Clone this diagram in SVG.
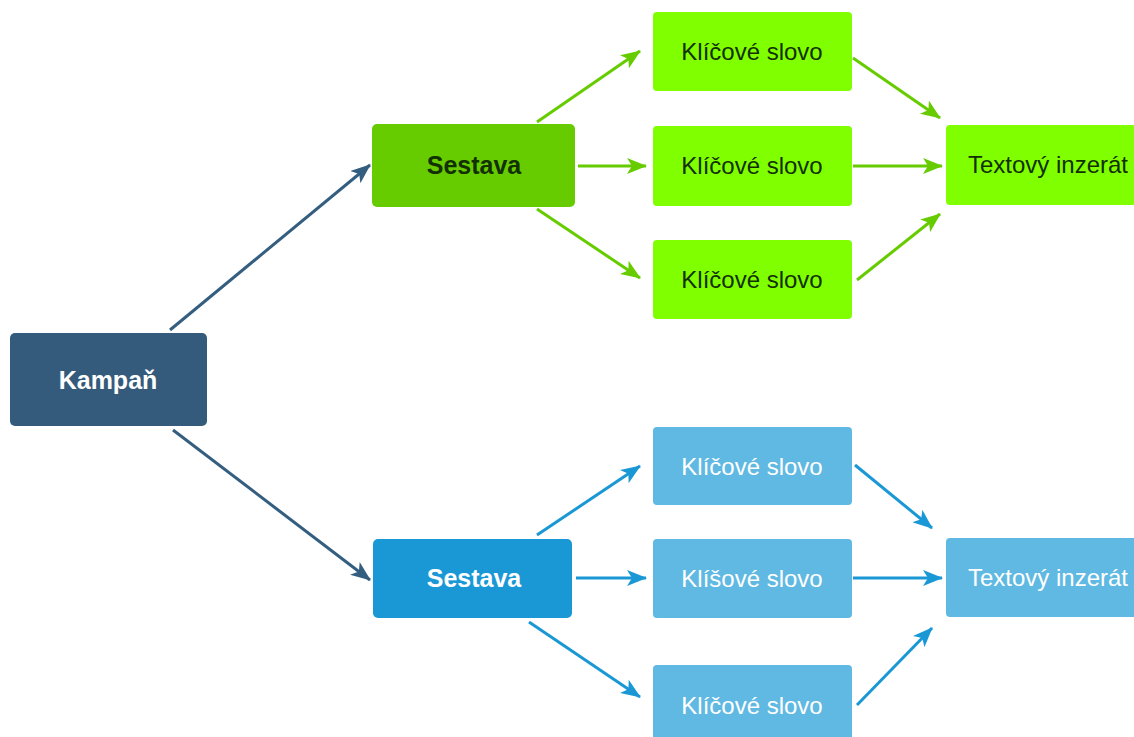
<svg xmlns="http://www.w3.org/2000/svg" width="1134" height="737" viewBox="0 0 1134 737">
<style>
.t{font-family:"Liberation Sans",Arial,sans-serif;font-size:24px;text-anchor:middle}
.b{font-weight:bold;font-size:25px}
.dk{fill:#123000}
.wh{fill:#ffffff}
.cg{stroke:#66cc00;stroke-width:3;fill:none}
.cb{stroke:#1a98d5;stroke-width:3;fill:none}
.cn{stroke:#345e80;stroke-width:3;fill:none}
</style>
<defs>
<marker id="ag" viewBox="0 0 20 16" refX="19" refY="8" markerWidth="20" markerHeight="16" markerUnits="userSpaceOnUse" orient="auto"><path d="M0,0 L20,8 L0,16 L5,8 Z" fill="#66cc00"/></marker>
<marker id="ab" viewBox="0 0 20 16" refX="19" refY="8" markerWidth="20" markerHeight="16" markerUnits="userSpaceOnUse" orient="auto"><path d="M0,0 L20,8 L0,16 L5,8 Z" fill="#1a98d5"/></marker>
<marker id="an" viewBox="0 0 20 16" refX="19" refY="8" markerWidth="20" markerHeight="16" markerUnits="userSpaceOnUse" orient="auto"><path d="M0,0 L20,8 L0,16 L5,8 Z" fill="#345e80"/></marker>
</defs>
<rect width="1134" height="737" fill="#ffffff"/>
<g id="connectors">
<line class="cn" x1="170" y1="330" x2="370" y2="165" marker-end="url(#an)"/>
<line class="cn" x1="173" y1="430" x2="370" y2="580" marker-end="url(#an)"/>
<line class="cg" x1="537" y1="122" x2="640" y2="51" marker-end="url(#ag)"/>
<line class="cg" x1="578" y1="166" x2="646" y2="166" marker-end="url(#ag)"/>
<line class="cg" x1="537" y1="209" x2="640" y2="278" marker-end="url(#ag)"/>
<line class="cg" x1="853" y1="58" x2="940" y2="118" marker-end="url(#ag)"/>
<line class="cg" x1="853" y1="166" x2="942" y2="166" marker-end="url(#ag)"/>
<line class="cg" x1="857" y1="280" x2="940" y2="214" marker-end="url(#ag)"/>
<line class="cb" x1="537" y1="535" x2="640" y2="466" marker-end="url(#ab)"/>
<line class="cb" x1="576" y1="578" x2="646" y2="578" marker-end="url(#ab)"/>
<line class="cb" x1="529" y1="622" x2="640" y2="697" marker-end="url(#ab)"/>
<line class="cb" x1="855" y1="465" x2="932" y2="528" marker-end="url(#ab)"/>
<line class="cb" x1="853" y1="578" x2="942" y2="578" marker-end="url(#ab)"/>
<line class="cb" x1="857" y1="705" x2="932" y2="628" marker-end="url(#ab)"/>
</g>
<g id="kampan"><rect x="10" y="333" width="197" height="93" rx="5" fill="#345b7c"/><text class="t b wh" x="108" y="389">Kampaň</text></g>
<g id="sestava1"><rect x="372" y="124" width="203" height="83" rx="5" fill="#66cc00"/><text class="t b dk" x="474" y="174">Sestava</text></g>
<g id="kw1"><rect x="653" y="12" width="199" height="79" rx="4" fill="#80ff00"/><text class="t dk" x="752" y="60">Klíčové slovo</text></g>
<g id="kw2"><rect x="653" y="126" width="199" height="80" rx="4" fill="#80ff00"/><text class="t dk" x="752" y="174">Klíčové slovo</text></g>
<g id="kw3"><rect x="653" y="240" width="199" height="79" rx="4" fill="#80ff00"/><text class="t dk" x="752" y="288">Klíčové slovo</text></g>
<g id="ad1"><rect x="946" y="125" width="200" height="80" rx="4" fill="#80ff00"/><text class="t dk" x="1048" y="173">Textový inzerát</text></g>
<g id="sestava2"><rect x="373" y="539" width="199" height="79" rx="5" fill="#1a98d5"/><text class="t b wh" x="474" y="587">Sestava</text></g>
<g id="kw4"><rect x="653" y="427" width="199" height="78" rx="4" fill="#5fb9e2"/><text class="t wh" x="752" y="475">Klíčové slovo</text></g>
<g id="kw5"><rect x="653" y="539" width="199" height="79" rx="4" fill="#5fb9e2"/><text class="t wh" x="752" y="587">Klíšové slovo</text></g>
<g id="kw6"><rect x="653" y="665" width="199" height="80" rx="4" fill="#5fb9e2"/><text class="t wh" x="752" y="714">Klíčové slovo</text></g>
<g id="ad2"><rect x="946" y="538" width="200" height="79" rx="4" fill="#5fb9e2"/><text class="t wh" x="1048" y="586">Textový inzerát</text></g>
</svg>
